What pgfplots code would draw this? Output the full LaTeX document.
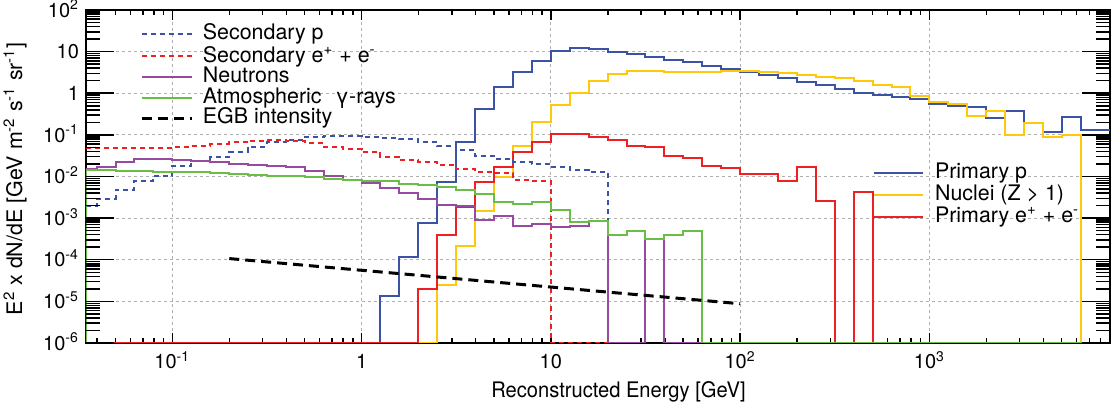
\documentclass[border=0pt]{standalone}
\usepackage{fontspec}
\setmainfont{TeX Gyre Heros}
\usepackage{graphicx}
\usepackage{pgfplots}
\pgfplotsset{compat=1.18}
\definecolor{pblue}{RGB}{58,83,164}
\definecolor{nyel}{RGB}{255,200,10}
\definecolor{ered}{RGB}{238,32,36}
\definecolor{npur}{RGB}{150,75,160}
\definecolor{ggreen}{RGB}{106,189,69}
\definecolor{gridgray}{RGB}{175,175,175}
\newcommand{\lfont}{\fontsize{10.7}{12}\selectfont}
\begin{document}
\begin{tikzpicture}
\begin{axis}[
  scale only axis, width=512pt, height=166.5pt,
  xmode=log, ymode=log,
  xmin=0.035, xmax=9000, ymin=1e-6, ymax=100,
  tick style={line width=0.75pt, black},
  tick align=inside,
  ytick={1e-6,1e-5,1e-4,1e-3,1e-2,1e-1,1,10,100},
  minor ytick={2e-6,3e-6,4e-6,5e-6,6e-6,7e-6,8e-6,9e-6,2e-5,3e-5,4e-5,5e-5,6e-5,7e-5,8e-5,9e-5,2e-4,3e-4,4e-4,5e-4,6e-4,7e-4,8e-4,9e-4,2e-3,3e-3,4e-3,5e-3,6e-3,7e-3,8e-3,9e-3,0.02,0.03,0.04,0.05,0.06,0.07,0.08,0.09,0.2,0.3,0.4,0.5,0.6,0.7,0.8,0.9,2,3,4,5,6,7,8,9,20,30,40,50,60,70,80,90},
  legend cell align=left,
  axis line style={line width=1pt, black},
  major tick length=5pt, minor tick length=2.5pt,
  xtick={0.1,1,10,100,1000},
  xticklabels={10\textsuperscript{-1},1,10,10\textsuperscript{2},10\textsuperscript{3}},
  yticklabels={10\textsuperscript{-6},10\textsuperscript{-5},10\textsuperscript{-4},10\textsuperscript{-3},10\textsuperscript{-2},10\textsuperscript{-1},1,10,10\textsuperscript{2}},
  minor xtick={0.04,0.05,0.06,0.07,0.08,0.09,0.2,0.3,0.4,0.5,0.6,0.7,0.8,0.9,2,3,4,5,6,7,8,9,20,30,40,50,60,70,80,90,200,300,400,500,600,700,800,900,2000,3000,4000,5000,6000,7000,8000,9000},
  grid=major,
  major grid style={line width=0.5pt, gridgray, dash pattern=on 1.5pt off 1.5pt},
  tick label style={font=\fontsize{10}{12}\selectfont},
  xticklabel style={anchor=base, yshift=-13pt},
  yticklabel style={anchor=base east, yshift=-3.6pt},
  xlabel={\scalebox{0.94}[1]{Reconstructed Energy [GeV]}},
  ylabel={E\textsuperscript{2} x dN/dE [GeV m\textsuperscript{-2} s\textsuperscript{-1} sr\textsuperscript{-1}]},
  xlabel style={at={(axis description cs:0.52,-0.147)}, anchor=center},
  ylabel style={at={(axis description cs:-0.0693,0.4925)}, anchor=center},
  label style={font=\lfont},
  legend style={at={(0.0527,0.961)}, anchor=north west, draw=none, fill=none, inner sep=0pt, row sep=-0.6pt, font=\lfont, nodes={inner sep=0.3pt, text depth=2.3pt}},
  legend image code/.code={\draw[#1] (0pt,0pt) -- (25pt,0pt); \path (29.5pt,0pt);},
]
% Primary p
\addplot[const plot mark left, line width=1pt, pblue, no marks, forget plot] coordinates {
(1.0,1e-6) (1.2589,1.380e-5) (1.5849,1.148e-4) (1.9953,7.586e-4) (2.5119,7.244e-3) (3.1623,6.607e-2) (3.9811,0.4169) (5.0119,1.445) (6.3096,3.311) (7.9433,6.026) (10,10.47) (12.589,12.02) (15.849,11.48) (19.953,10.0) (25.119,8.710) (31.623,7.586) (39.811,6.310) (50.119,5.495) (63.096,4.571) (79.433,3.802) (100,3.311) (125.89,2.754) (158.49,2.291) (199.53,1.905) (251.19,1.585) (316.23,1.259) (398.11,1.0) (501.19,0.912) (630.96,0.794) (794.33,0.724) (1000,0.550) (1258.9,0.501) (1584.9,0.457) (1995.3,0.251) (2511.9,0.380) (3162.3,0.191) (3981.1,0.120) (5011.9,0.263) (6309.6,0.132) (7943.3,0.132) (9000,0.132)};
% Nuclei
\addplot[const plot mark left, line width=1pt, nyel, no marks, forget plot] coordinates {
(1.9953,1e-6) (2.5119,2.512e-5) (3.1623,2.188e-4) (3.9811,1.445e-3) (5.0119,9.550e-3) (6.3096,5.495e-2) (7.9433,0.204) (10,0.525) (12.589,1.0) (15.849,1.995) (19.953,2.884) (25.119,3.467) (31.623,3.467) (39.811,3.311) (50.119,3.25) (63.096,3.311) (79.433,3.467) (100,3.467) (125.89,3.311) (158.49,3.020) (199.53,2.754) (251.19,2.512) (316.23,2.291) (398.11,1.977) (501.19,1.549) (630.96,1.380) (794.33,0.871) (1000,0.631) (1258.9,0.550) (1584.9,0.288) (1995.3,0.380) (2511.9,0.102) (3162.3,0.191) (3981.1,0.0871) (5011.9,0.102) (6309.6,1e-6) (9000,1e-6)};
% Primary e+ + e-
\addplot[const plot mark left, line width=1pt, ered, no marks, forget plot] coordinates {
(0.035,1e-6) (1.9953,1.995e-5) (2.5119,3.837e-4) (3.1623,1.837e-3) (3.9811,7.244e-3) (5.0119,1.738e-2) (6.3096,3.981e-2) (7.9433,6.607e-2) (10,0.1047) (12.589,0.1047) (15.849,0.0912) (19.953,0.0759) (25.119,0.0550) (31.623,0.0525) (39.811,0.0316) (50.119,0.0282) (63.096,0.0182) (79.433,0.0158) (100,0.01148) (125.89,0.01175) (158.49,7.943e-3) (199.53,0.0166) (251.19,2.57e-3) (316.23,1e-6) (398.11,4.169e-3) (501.19,1e-6)};
% Secondary p
\addplot[const plot mark left, line width=1pt, dash pattern=on 2.5pt off 2pt, pblue, no marks] coordinates {
(0.035,1.905e-3) (0.039811,2.884e-3) (0.050119,4.786e-3) (0.063096,7.943e-3) (0.079433,1.047e-2) (0.1,1.820e-2) (0.12589,2.399e-2) (0.15849,3.020e-2) (0.19953,3.981e-2) (0.25119,5.248e-2) (0.31623,6.607e-2) (0.39811,7.586e-2) (0.50119,9.120e-2) (0.63096,9.550e-2) (0.79433,9.550e-2) (1,9.120e-2) (1.2589,8.318e-2) (1.5849,7.943e-2) (1.9953,6.607e-2) (2.5119,5.495e-2) (3.1623,4.365e-2) (3.9811,3.162e-2) (5.0119,2.630e-2) (6.3096,2.188e-2) (7.9433,1.995e-2) (10,1.738e-2) (12.589,1.445e-2) (15.849,1.318e-2) (19.953,1e-6)};
\addlegendentry{Secondary p}
% Secondary e+ + e-
\addplot[const plot mark left, line width=1pt, dash pattern=on 2.5pt off 2pt, ered, no marks] coordinates {
(0.035,4.9e-2) (0.1,5.248e-2) (0.12589,5.495e-2) (0.15849,6.026e-2) (0.19953,6.607e-2) (0.25119,7.244e-2) (0.31623,7.586e-2) (0.39811,7.244e-2) (0.50119,6.310e-2) (0.63096,5.248e-2) (0.79433,4.571e-2) (1,3.802e-2) (1.2589,3.020e-2) (1.5849,2.512e-2) (1.9953,2.291e-2) (2.5119,1.905e-2) (3.1623,1.514e-2) (3.9811,1.259e-2) (5.0119,1.202e-2) (6.3096,8.318e-3) (7.9433,7.943e-3) (10,1e-6) (19.953,1e-6)};
\addlegendentry{\rule{0pt}{8.8pt}Secondary e\textsuperscript{+} + e\textsuperscript{-}}
% Neutrons
\addplot[const plot mark left, line width=1pt, npur, no marks] coordinates {
(0.035,1.479e-2) (0.039811,1.738e-2) (0.050119,2.188e-2) (0.063096,2.630e-2) (0.079433,2.630e-2) (0.1,2.512e-2) (0.12589,2.399e-2) (0.15849,2.239e-2) (0.19953,2.042e-2) (0.25119,1.862e-2) (0.31623,1.778e-2) (0.39811,1.698e-2) (0.50119,1.380e-2) (0.63096,1.047e-2) (0.79433,8.128e-3) (1,7.079e-3) (1.2589,5.248e-3) (1.5849,4.074e-3) (1.9953,2.951e-3) (2.5119,2.089e-3) (3.1623,1.950e-3) (3.9811,8.913e-4) (5.0119,1.096e-3) (6.3096,6.310e-4) (7.9433,7.244e-4) (10,6.026e-4) (12.589,6.607e-4) (15.849,8.318e-4) (19.953,1e-6) (31.623,3.162e-4) (39.811,1e-6) (63.096,1e-6)};
\addlegendentry{\rule{0pt}{8pt}Neutrons}
% Atmospheric gamma-rays
\addplot[const plot mark left, line width=1pt, ggreen, no marks] coordinates {
(0.035,1e-6) (0.035,1.445e-2) (0.039811,1.396e-2) (0.050119,1.365e-2) (0.063096,1.349e-2) (0.079433,1.318e-2) (0.1,1.288e-2) (0.12589,1.259e-2) (0.15849,1.202e-2) (0.19953,1.148e-2) (0.25119,1.096e-2) (0.31623,1.047e-2) (0.39811,1.0e-2) (0.50119,9.550e-3) (0.63096,8.913e-3) (0.79433,8.318e-3) (1,7.943e-3) (1.2589,7.762e-3) (1.5849,6.761e-3) (1.9953,6.166e-3) (2.5119,5.495e-3) (3.1623,4.677e-3) (3.9811,3.802e-3) (5.0119,2.399e-3) (6.3096,2.188e-3) (7.9433,2.455e-3) (10,1.585e-3) (12.589,7.943e-4) (15.849,8.318e-4) (19.953,3.981e-4) (25.119,5.012e-4) (31.623,3.162e-4) (39.811,3.981e-4) (50.119,5.012e-4) (63.096,1e-6) (9000,1e-6)};
\addlegendentry{\rule{0pt}{8pt}Atmospheric\hspace{0.65em}γ-rays}
% EGB
\addplot[black, line width=1.5pt, dash pattern=on 5pt off 3pt, no marks] coordinates {
(0.2,1.067e-4) (0.5,7.38e-5) (1,5.58e-5) (2,4.23e-5) (5,2.92e-5) (10,2.21e-5) (20,1.67e-5) (50,1.16e-5) (100,8.77e-6)};
\addlegendentry{\rule{0pt}{8pt}EGB intensity}
\coordinate (SW) at (rel axis cs:0,0);
\coordinate (NE) at (rel axis cs:1,1);
\end{axis}
\begin{axis}[
  scale only axis, width=512pt, height=166.5pt,
  xmode=log, ymode=log,
  xmin=0.035, xmax=9000, ymin=1e-6, ymax=100,
  tick style={line width=0.75pt, black},
  tick align=inside,
  ytick={1e-6,1e-5,1e-4,1e-3,1e-2,1e-1,1,10,100},
  minor ytick={2e-6,3e-6,4e-6,5e-6,6e-6,7e-6,8e-6,9e-6,2e-5,3e-5,4e-5,5e-5,6e-5,7e-5,8e-5,9e-5,2e-4,3e-4,4e-4,5e-4,6e-4,7e-4,8e-4,9e-4,2e-3,3e-3,4e-3,5e-3,6e-3,7e-3,8e-3,9e-3,0.02,0.03,0.04,0.05,0.06,0.07,0.08,0.09,0.2,0.3,0.4,0.5,0.6,0.7,0.8,0.9,2,3,4,5,6,7,8,9,20,30,40,50,60,70,80,90},
  legend cell align=left,
  axis line style={draw=none},
  major tick length=14pt, minor tick length=6.8pt,
  xtick=\empty, minor xtick={},
  yticklabels={},
  legend style={at={(0.7686,0.5465)}, anchor=north west, draw=none, fill=none, inner sep=0pt, row sep=0pt, font=\lfont, nodes={inner sep=0.3pt, text height=8pt, text depth=2.5pt}},
  legend image code/.code={\draw[#1] (0pt,0pt) -- (24.5pt,0pt); \path (29.5pt,0pt);},
]
\addlegendimage{pblue, line width=1pt}
\addlegendentry{Primary p}
\addlegendimage{nyel, line width=1pt}
\addlegendentry{Nuclei (Z > 1)}
\addlegendimage{ered, line width=1pt}
\addlegendentry{Primary e\textsuperscript{+} + e\textsuperscript{-}}
\end{axis}
\pgfresetboundingbox
\path ([shift={(-43pt,-33pt)}]SW) rectangle ([shift={(0.5pt,5pt)}]NE);
\end{tikzpicture}
\end{document}
